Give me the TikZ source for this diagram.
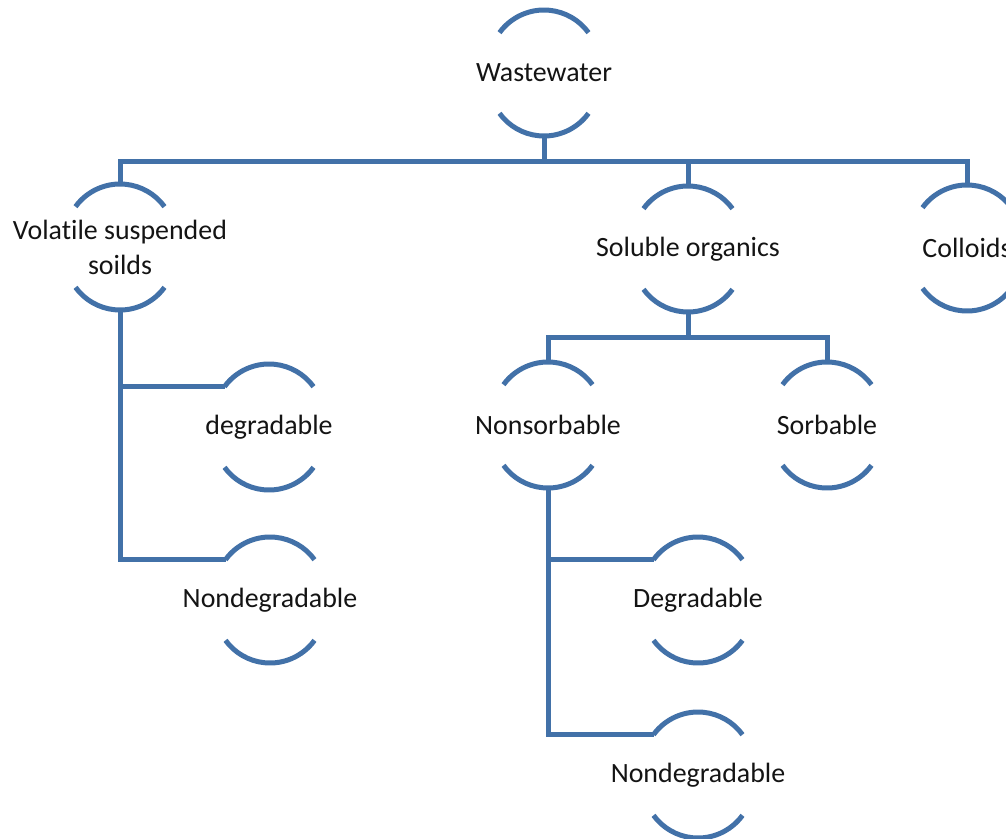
\documentclass[tikz,border=0pt]{standalone}
\usepackage{fontspec}
\setmainfont[Ligatures=NoCommon]{Carlito}
\usetikzlibrary{calc}
\definecolor{lineblue}{RGB}{66,113,168}
\definecolor{txtcol}{RGB}{20,20,20}
\tikzset{
  arcline/.style={draw=lineblue, line width=5bp},
  conn/.style={draw=lineblue, line width=5bp},
  txt/.style={inner sep=0pt, align=center, text=txtcol, font=\fontsize{28}{35}\selectfont},
}
\newcommand{\arcnode}[4]{%
  \node[txt] (#1) at (#2,#3) {#4};
  \coordinate (#1-t) at ($(#1)+(0,-63)$);
  \coordinate (#1-b) at ($(#1)+(0,63)$);
  \coordinate (#1-l) at ($(#1)+(-44.5,-40.3)$);
  \draw[arcline] ($(#1)+(0,-8)+(216:55)$) arc[start angle=216,end angle=324,radius=55];
  \draw[arcline] ($(#1)+(0,8)+(36:55)$) arc[start angle=36,end angle=144,radius=55];
}
\begin{document}
\begin{tikzpicture}[x=1bp,y=-1bp]
\clip (0,0) rectangle (1006,839);
\fill[white] (0,0) rectangle (1006,839);
\arcnode{ww}{544}{73}{Wastewater}
\arcnode{vss}{120}{247}{Volatile suspended\\soilds}
\arcnode{so}{688}{249}{Soluble organics}
\arcnode{col}{967}{248}{Colloids}
\arcnode{degL}{269}{427}{degradable}
\arcnode{ndegL}{270}{600}{Nondegradable}
\arcnode{nons}{548}{425}{Nonsorbable}
\arcnode{sorb}{827}{425}{Sorbable}
\arcnode{degR}{698}{600}{Degradable}
\arcnode{ndegR}{698}{775}{Nondegradable}
\coordinate (busA) at (544,161);
\coordinate (busB) at (688,337);
\draw[conn] (ww-b) -- (busA);
\draw[conn] (vss-t) |- (busA) -| (col-t);
\draw[conn] (so-t) -- (so-t |- busA);
\draw[conn] (so-b) -- (busB);
\draw[conn] (nons-t) |- (busB) -| (sorb-t);
\draw[conn] (degL-l) -- (vss-b |- degL-l);
\draw[conn] (ndegL-l) -| (vss-b);
\draw[conn] (degR-l) -- (nons-b |- degR-l);
\draw[conn] (ndegR-l) -| (nons-b);
\end{tikzpicture}
\end{document}
